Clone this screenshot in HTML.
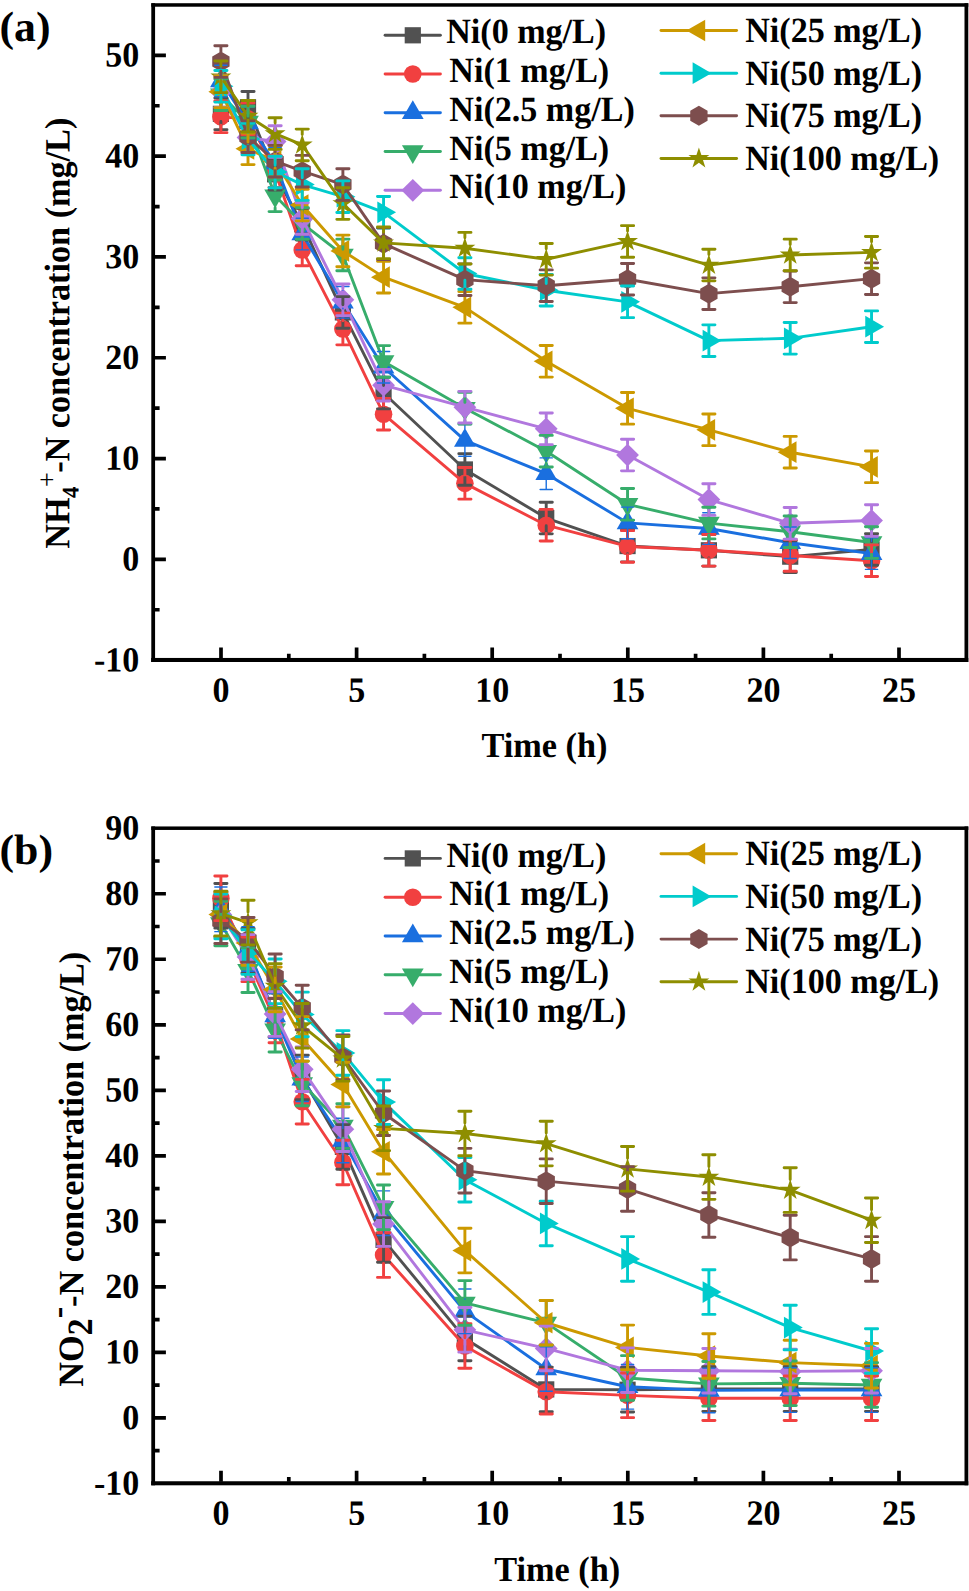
<!DOCTYPE html>
<html lang="en">
<head>
<meta charset="utf-8">
<title>Ni concentration effects on NH4+-N and NO2--N</title>
<style>
html,body{margin:0;padding:0;background:#fff;}
body{width:969px;height:1591px;overflow:hidden;font-family:"Liberation Serif",serif;}
svg{display:block;}
</style>
</head>
<body>
<svg width="969" height="1591" viewBox="0 0 969 1591">
<rect width="969" height="1591" fill="#fff"/>
<g id="chart-a">
<polyline points="220.9,113.83 248.01,107.28 275.12,174.31 302.23,224.21 342.89,312.41 383.56,393.05 464.89,469.46 546.22,518.04 627.55,546.06 708.88,550.3 790.21,556.65 871.54,549.49" fill="none" stroke="#515151" stroke-width="2.9" stroke-linejoin="round"/>
<rect x="212.8" y="105.73" width="16.2" height="16.2" fill="#515151"/>
<rect x="239.91" y="99.18" width="16.2" height="16.2" fill="#515151"/>
<rect x="267.02" y="166.21" width="16.2" height="16.2" fill="#515151"/>
<rect x="294.13" y="216.11" width="16.2" height="16.2" fill="#515151"/>
<rect x="334.79" y="304.31" width="16.2" height="16.2" fill="#515151"/>
<rect x="375.46" y="384.95" width="16.2" height="16.2" fill="#515151"/>
<rect x="456.79" y="461.36" width="16.2" height="16.2" fill="#515151"/>
<rect x="538.12" y="509.94" width="16.2" height="16.2" fill="#515151"/>
<rect x="619.45" y="537.96" width="16.2" height="16.2" fill="#515151"/>
<rect x="700.78" y="542.2" width="16.2" height="16.2" fill="#515151"/>
<rect x="782.11" y="548.55" width="16.2" height="16.2" fill="#515151"/>
<rect x="863.44" y="541.39" width="16.2" height="16.2" fill="#515151"/>
<polyline points="220.9,116.86 248.01,118.87 275.12,171.59 302.23,249.91 342.89,329.04 383.56,414.22 464.89,483.37 546.22,525.2 627.55,546.47 708.88,550.3 790.21,555.44 871.54,560.68" fill="none" stroke="#F14040" stroke-width="2.9" stroke-linejoin="round"/>
<circle cx="220.9" cy="116.86" r="8.8" fill="#F14040"/>
<circle cx="248.01" cy="118.87" r="8.8" fill="#F14040"/>
<circle cx="275.12" cy="171.59" r="8.8" fill="#F14040"/>
<circle cx="302.23" cy="249.91" r="8.8" fill="#F14040"/>
<circle cx="342.89" cy="329.04" r="8.8" fill="#F14040"/>
<circle cx="383.56" cy="414.22" r="8.8" fill="#F14040"/>
<circle cx="464.89" cy="483.37" r="8.8" fill="#F14040"/>
<circle cx="546.22" cy="525.2" r="8.8" fill="#F14040"/>
<circle cx="627.55" cy="546.47" r="8.8" fill="#F14040"/>
<circle cx="708.88" cy="550.3" r="8.8" fill="#F14040"/>
<circle cx="790.21" cy="555.44" r="8.8" fill="#F14040"/>
<circle cx="871.54" cy="560.68" r="8.8" fill="#F14040"/>
<polyline points="220.9,81.07 248.01,122.91 275.12,163.23 302.23,234.09 342.89,302.33 383.56,367.25 464.89,440.43 546.22,473.69 627.55,522.88 708.88,528.53 790.21,542.74 871.54,553.62" fill="none" stroke="#1A6FDF" stroke-width="2.9" stroke-linejoin="round"/>
<polygon points="220.9,68.54 210.05,87.34 231.75,87.34" fill="#1A6FDF"/>
<polygon points="248.01,110.37 237.16,129.17 258.86,129.17" fill="#1A6FDF"/>
<polygon points="275.12,150.69 264.27,169.49 285.97,169.49" fill="#1A6FDF"/>
<polygon points="302.23,221.56 291.38,240.36 313.08,240.36" fill="#1A6FDF"/>
<polygon points="342.89,289.8 332.04,308.6 353.75,308.6" fill="#1A6FDF"/>
<polygon points="383.56,354.71 372.71,373.51 394.41,373.51" fill="#1A6FDF"/>
<polygon points="464.89,427.89 454.04,446.69 475.74,446.69" fill="#1A6FDF"/>
<polygon points="546.22,461.16 535.37,479.96 557.07,479.96" fill="#1A6FDF"/>
<polygon points="627.55,510.35 616.7,529.15 638.4,529.15" fill="#1A6FDF"/>
<polygon points="708.88,515.99 698.03,534.79 719.73,534.79" fill="#1A6FDF"/>
<polygon points="790.21,530.2 779.36,549 801.06,549" fill="#1A6FDF"/>
<polygon points="871.54,541.09 860.69,559.89 882.39,559.89" fill="#1A6FDF"/>
<polyline points="220.9,94.68 248.01,122.1 275.12,195.78 302.23,223.4 342.89,254.95 383.56,361.4 464.89,408.17 546.22,451.21 627.55,504.33 708.88,523.08 790.21,531.75 871.54,542.54" fill="none" stroke="#37AD6B" stroke-width="2.9" stroke-linejoin="round"/>
<polygon points="220.9,107.22 210.05,88.42 231.75,88.42" fill="#37AD6B"/>
<polygon points="248.01,134.63 237.16,115.83 258.86,115.83" fill="#37AD6B"/>
<polygon points="275.12,208.32 264.27,189.52 285.97,189.52" fill="#37AD6B"/>
<polygon points="302.23,235.94 291.38,217.14 313.08,217.14" fill="#37AD6B"/>
<polygon points="342.89,267.49 332.04,248.69 353.75,248.69" fill="#37AD6B"/>
<polygon points="383.56,373.93 372.71,355.13 394.41,355.13" fill="#37AD6B"/>
<polygon points="464.89,420.7 454.04,401.9 475.74,401.9" fill="#37AD6B"/>
<polygon points="546.22,463.74 535.37,444.94 557.07,444.94" fill="#37AD6B"/>
<polygon points="627.55,516.87 616.7,498.07 638.4,498.07" fill="#37AD6B"/>
<polygon points="708.88,535.62 698.03,516.82 719.73,516.82" fill="#37AD6B"/>
<polygon points="790.21,544.28 779.36,525.48 801.06,525.48" fill="#37AD6B"/>
<polygon points="871.54,555.07 860.69,536.27 882.39,536.27" fill="#37AD6B"/>
<polyline points="220.9,91.66 248.01,137.52 275.12,141.55 302.23,218.57 342.89,299.81 383.56,385.19 464.89,407.16 546.22,428.83 627.55,455.04 708.88,499.6 790.21,523.28 871.54,520.56" fill="none" stroke="#B177DE" stroke-width="2.9" stroke-linejoin="round"/>
<polygon points="220.9,80.26 232.3,91.66 220.9,103.06 209.5,91.66" fill="#B177DE"/>
<polygon points="248.01,126.12 259.41,137.52 248.01,148.92 236.61,137.52" fill="#B177DE"/>
<polygon points="275.12,130.15 286.52,141.55 275.12,152.95 263.72,141.55" fill="#B177DE"/>
<polygon points="302.23,207.17 313.63,218.57 302.23,229.97 290.83,218.57" fill="#B177DE"/>
<polygon points="342.89,288.41 354.29,299.81 342.89,311.21 331.5,299.81" fill="#B177DE"/>
<polygon points="383.56,373.79 394.96,385.19 383.56,396.59 372.16,385.19" fill="#B177DE"/>
<polygon points="464.89,395.76 476.29,407.16 464.89,418.56 453.49,407.16" fill="#B177DE"/>
<polygon points="546.22,417.43 557.62,428.83 546.22,440.23 534.82,428.83" fill="#B177DE"/>
<polygon points="627.55,443.64 638.95,455.04 627.55,466.44 616.15,455.04" fill="#B177DE"/>
<polygon points="708.88,488.2 720.28,499.6 708.88,511 697.48,499.6" fill="#B177DE"/>
<polygon points="790.21,511.88 801.61,523.28 790.21,534.68 778.81,523.28" fill="#B177DE"/>
<polygon points="871.54,509.16 882.94,520.56 871.54,531.96 860.14,520.56" fill="#B177DE"/>
<polyline points="220.9,91.86 248.01,148.81 275.12,161.21 302.23,205.06 342.89,250.92 383.56,277.13 464.89,307.37 546.22,361.3 627.55,408.37 708.88,429.84 790.21,452.22 871.54,466.84" fill="none" stroke="#CC9900" stroke-width="2.9" stroke-linejoin="round"/>
<polygon points="208.37,91.86 227.17,81.01 227.17,102.71" fill="#CC9900"/>
<polygon points="235.48,148.81 254.28,137.96 254.28,159.66" fill="#CC9900"/>
<polygon points="262.59,161.21 281.39,150.36 281.39,172.06" fill="#CC9900"/>
<polygon points="289.7,205.06 308.5,194.21 308.5,215.91" fill="#CC9900"/>
<polygon points="330.36,250.92 349.16,240.07 349.16,261.77" fill="#CC9900"/>
<polygon points="371.03,277.13 389.83,266.28 389.83,287.98" fill="#CC9900"/>
<polygon points="452.36,307.37 471.16,296.52 471.16,318.22" fill="#CC9900"/>
<polygon points="533.69,361.3 552.49,350.45 552.49,372.15" fill="#CC9900"/>
<polygon points="615.02,408.37 633.82,397.52 633.82,419.22" fill="#CC9900"/>
<polygon points="696.35,429.84 715.15,418.99 715.15,440.69" fill="#CC9900"/>
<polygon points="777.68,452.22 796.48,441.37 796.48,463.07" fill="#CC9900"/>
<polygon points="859.01,466.84 877.81,455.99 877.81,477.69" fill="#CC9900"/>
<polyline points="220.9,86.32 248.01,139.03 275.12,172 302.23,184.6 342.89,196.69 383.56,212.32 464.89,273.5 546.22,290.23 627.55,301.83 708.88,340.63 790.21,338.32 871.54,326.72" fill="none" stroke="#00CBCC" stroke-width="2.9" stroke-linejoin="round"/>
<polygon points="233.43,86.32 214.63,75.47 214.63,97.17" fill="#00CBCC"/>
<polygon points="260.54,139.03 241.74,128.18 241.74,149.88" fill="#00CBCC"/>
<polygon points="287.65,172 268.85,161.15 268.85,182.85" fill="#00CBCC"/>
<polygon points="314.76,184.6 295.96,173.75 295.96,195.45" fill="#00CBCC"/>
<polygon points="355.43,196.69 336.63,185.84 336.63,207.54" fill="#00CBCC"/>
<polygon points="396.09,212.32 377.29,201.47 377.29,223.17" fill="#00CBCC"/>
<polygon points="477.42,273.5 458.62,262.65 458.62,284.35" fill="#00CBCC"/>
<polygon points="558.75,290.23 539.95,279.38 539.95,301.08" fill="#00CBCC"/>
<polygon points="640.08,301.83 621.28,290.98 621.28,312.68" fill="#00CBCC"/>
<polygon points="721.41,340.63 702.61,329.78 702.61,351.48" fill="#00CBCC"/>
<polygon points="802.74,338.32 783.94,327.47 783.94,349.17" fill="#00CBCC"/>
<polygon points="884.07,326.72 865.27,315.87 865.27,337.57" fill="#00CBCC"/>
<polyline points="220.9,61.62 248.01,136.72 275.12,161.21 302.23,171.19 342.89,184.6 383.56,243.66 464.89,279.65 546.22,285.7 627.55,279.25 708.88,293.66 790.21,286.81 871.54,278.64" fill="none" stroke="#7D4E4E" stroke-width="2.9" stroke-linejoin="round"/>
<polygon points="220.9,51.62 212.24,56.62 212.24,66.62 220.9,71.62 229.56,66.62 229.56,56.62" fill="#7D4E4E"/>
<polygon points="248.01,126.72 239.35,131.72 239.35,141.72 248.01,146.72 256.67,141.72 256.67,131.72" fill="#7D4E4E"/>
<polygon points="275.12,151.21 266.46,156.21 266.46,166.21 275.12,171.21 283.78,166.21 283.78,156.21" fill="#7D4E4E"/>
<polygon points="302.23,161.19 293.57,166.19 293.57,176.19 302.23,181.19 310.89,176.19 310.89,166.19" fill="#7D4E4E"/>
<polygon points="342.89,174.6 334.23,179.6 334.23,189.6 342.89,194.6 351.56,189.6 351.56,179.6" fill="#7D4E4E"/>
<polygon points="383.56,233.66 374.9,238.66 374.9,248.66 383.56,253.66 392.22,248.66 392.22,238.66" fill="#7D4E4E"/>
<polygon points="464.89,269.65 456.23,274.65 456.23,284.65 464.89,289.65 473.55,284.65 473.55,274.65" fill="#7D4E4E"/>
<polygon points="546.22,275.7 537.56,280.7 537.56,290.7 546.22,295.7 554.88,290.7 554.88,280.7" fill="#7D4E4E"/>
<polygon points="627.55,269.25 618.89,274.25 618.89,284.25 627.55,289.25 636.21,284.25 636.21,274.25" fill="#7D4E4E"/>
<polygon points="708.88,283.66 700.22,288.66 700.22,298.66 708.88,303.66 717.54,298.66 717.54,288.66" fill="#7D4E4E"/>
<polygon points="790.21,276.81 781.55,281.81 781.55,291.81 790.21,296.81 798.87,291.81 798.87,281.81" fill="#7D4E4E"/>
<polygon points="871.54,268.64 862.88,273.64 862.88,283.64 871.54,288.64 880.2,283.64 880.2,273.64" fill="#7D4E4E"/>
<polyline points="220.9,76.84 248.01,116.25 275.12,133.59 302.23,144.88 342.89,203.55 383.56,242.86 464.89,248.2 546.22,259.29 627.55,241.45 708.88,265.03 790.21,254.95 871.54,252.33" fill="none" stroke="#8E8E00" stroke-width="2.9" stroke-linejoin="round"/>
<polygon points="220.9,65.84 218.43,73.44 210.44,73.44 216.9,78.14 214.43,85.74 220.9,81.04 227.37,85.74 224.9,78.14 231.36,73.44 223.37,73.44" fill="#8E8E00"/>
<polygon points="248.01,105.25 245.54,112.85 237.55,112.85 244.01,117.55 241.54,125.15 248.01,120.46 254.48,125.15 252.01,117.55 258.47,112.85 250.48,112.85" fill="#8E8E00"/>
<polygon points="275.12,122.59 272.65,130.19 264.66,130.19 271.12,134.89 268.65,142.49 275.12,137.79 281.59,142.49 279.12,134.89 285.58,130.19 277.59,130.19" fill="#8E8E00"/>
<polygon points="302.23,133.88 299.76,141.48 291.77,141.48 298.23,146.18 295.76,153.78 302.23,149.08 308.7,153.78 306.23,146.18 312.69,141.48 304.7,141.48" fill="#8E8E00"/>
<polygon points="342.89,192.55 340.43,200.15 332.43,200.15 338.9,204.84 336.43,212.45 342.89,207.75 349.36,212.45 346.89,204.84 353.36,200.15 345.36,200.15" fill="#8E8E00"/>
<polygon points="383.56,231.86 381.09,239.46 373.1,239.46 379.56,244.16 377.09,251.76 383.56,247.06 390.03,251.76 387.56,244.16 394.02,239.46 386.03,239.46" fill="#8E8E00"/>
<polygon points="464.89,237.2 462.42,244.8 454.43,244.8 460.89,249.5 458.42,257.1 464.89,252.4 471.36,257.1 468.89,249.5 475.35,244.8 467.36,244.8" fill="#8E8E00"/>
<polygon points="546.22,248.29 543.75,255.89 535.76,255.89 542.22,260.59 539.75,268.19 546.22,263.49 552.69,268.19 550.22,260.59 556.68,255.89 548.69,255.89" fill="#8E8E00"/>
<polygon points="627.55,230.45 625.08,238.05 617.09,238.05 623.55,242.75 621.08,250.35 627.55,245.65 634.02,250.35 631.55,242.75 638.01,238.05 630.02,238.05" fill="#8E8E00"/>
<polygon points="708.88,254.03 706.41,261.63 698.42,261.63 704.88,266.33 702.41,273.93 708.88,269.24 715.35,273.93 712.88,266.33 719.34,261.63 711.35,261.63" fill="#8E8E00"/>
<polygon points="790.21,243.95 787.74,251.55 779.75,251.55 786.21,256.25 783.74,263.85 790.21,259.16 796.68,263.85 794.21,256.25 800.67,251.55 792.68,251.55" fill="#8E8E00"/>
<polygon points="871.54,241.33 869.07,248.93 861.08,248.93 867.54,253.63 865.07,261.23 871.54,256.54 878.01,261.23 875.54,253.63 882,248.93 874.01,248.93" fill="#8E8E00"/>
<path d="M214.8 98.03H227M214.8 129.63H227M220.9 98.03V106.23M220.9 121.43V129.63M241.91 91.48H254.11M241.91 123.08H254.11M248.01 91.48V99.68M248.01 114.88V123.08M269.02 158.51H281.22M269.02 190.11H281.22M275.12 158.51V166.71M275.12 181.91V190.11M296.13 208.41H308.33M296.13 240.01H308.33M302.23 208.41V216.61M302.23 231.81V240.01M336.79 296.61H349M336.79 328.21H349M342.89 296.61V304.81M342.89 320.01V328.21M377.46 377.25H389.66M377.46 408.85H389.66M383.56 377.25V385.45M383.56 400.65V408.85M458.79 453.66H470.99M458.79 485.26H470.99M464.89 453.66V461.86M464.89 477.06V485.26M540.12 502.24H552.32M540.12 533.84H552.32M546.22 502.24V510.44M546.22 525.64V533.84M621.45 530.26H633.65M621.45 561.86H633.65M627.55 530.26V538.46M627.55 553.66V561.86M702.78 534.5H714.98M702.78 566.1H714.98M708.88 534.5V542.7M708.88 557.9V566.1M784.11 540.85H796.31M784.11 572.45H796.31M790.21 540.85V549.05M790.21 564.25V572.45M865.44 533.69H877.64M865.44 565.29H877.64M871.54 533.69V541.89M871.54 557.09V565.29" fill="none" stroke="#515151" stroke-width="2.9" stroke-linecap="round"/>
<path d="M214.8 101.06H227M214.8 132.66H227M220.9 101.06V108.56M220.9 125.16V132.66M241.91 103.07H254.11M241.91 134.67H254.11M248.01 103.07V110.57M248.01 127.17V134.67M269.02 155.79H281.22M269.02 187.39H281.22M275.12 155.79V163.29M275.12 179.89V187.39M296.13 234.11H308.33M296.13 265.71H308.33M302.23 234.11V241.61M302.23 258.21V265.71M336.79 313.24H349M336.79 344.84H349M342.89 313.24V320.74M342.89 337.34V344.84M377.46 398.42H389.66M377.46 430.02H389.66M383.56 398.42V405.92M383.56 422.52V430.02M458.79 467.57H470.99M458.79 499.17H470.99M464.89 467.57V475.07M464.89 491.67V499.17M540.12 509.4H552.32M540.12 541H552.32M546.22 509.4V516.9M546.22 533.5V541M621.45 530.67H633.65M621.45 562.27H633.65M627.55 530.67V538.17M627.55 554.77V562.27M702.78 534.5H714.98M702.78 566.1H714.98M708.88 534.5V542M708.88 558.6V566.1M784.11 539.64H796.31M784.11 571.24H796.31M790.21 539.64V547.14M790.21 563.74V571.24M865.44 544.88H877.64M865.44 576.48H877.64M871.54 544.88V552.38M871.54 568.98V576.48" fill="none" stroke="#F14040" stroke-width="2.9" stroke-linecap="round"/>
<path d="M214.8 65.27H227M214.8 96.87H227M220.9 65.27V69.04M220.9 86.84V96.87M241.91 107.11H254.11M241.91 138.71H254.11M248.01 107.11V110.87M248.01 128.67V138.71M269.02 147.43H281.22M269.02 179.03H281.22M275.12 147.43V151.19M275.12 168.99V179.03M296.13 218.29H308.33M296.13 249.89H308.33M302.23 218.29V222.06M302.23 239.86V249.89M336.79 286.53H349M336.79 318.13H349M342.89 286.53V290.3M342.89 308.1V318.13M377.46 351.45H389.66M377.46 383.05H389.66M383.56 351.45V355.21M383.56 373.01V383.05M458.79 424.63H470.99M458.79 456.23H470.99M464.89 424.63V428.39M464.89 446.19V456.23M540.12 457.89H552.32M540.12 489.49H552.32M546.22 457.89V461.66M546.22 479.46V489.49M621.45 507.08H633.65M621.45 538.68H633.65M627.55 507.08V510.85M627.55 528.65V538.68M702.78 512.73H714.98M702.78 544.33H714.98M708.88 512.73V516.49M708.88 534.29V544.33M784.11 526.94H796.31M784.11 558.54H796.31M790.21 526.94V530.7M790.21 548.5V558.54M865.44 537.82H877.64M865.44 569.42H877.64M871.54 537.82V541.59M871.54 559.39V569.42" fill="none" stroke="#1A6FDF" stroke-width="1.4" stroke-linecap="round"/>
<path d="M214.8 78.88H227M214.8 110.48H227M220.9 78.88V88.92M220.9 106.72V110.48M241.91 106.3H254.11M241.91 137.9H254.11M248.01 106.3V116.33M248.01 134.13V137.9M269.02 179.98H281.22M269.02 211.58H281.22M275.12 179.98V190.02M275.12 207.82V211.58M296.13 207.6H308.33M296.13 239.2H308.33M302.23 207.6V217.64M302.23 235.44V239.2M336.79 239.15H349M336.79 270.75H349M342.89 239.15V249.19M342.89 266.99V270.75M377.46 345.6H389.66M377.46 377.2H389.66M383.56 345.6V355.63M383.56 373.43V377.2M458.79 392.37H470.99M458.79 423.97H470.99M464.89 392.37V402.4M464.89 420.2V423.97M540.12 435.41H552.32M540.12 467.01H552.32M546.22 435.41V445.44M546.22 463.24V467.01M621.45 488.53H633.65M621.45 520.13H633.65M627.55 488.53V498.57M627.55 516.37V520.13M702.78 507.28H714.98M702.78 538.88H714.98M708.88 507.28V517.32M708.88 535.12V538.88M784.11 515.95H796.31M784.11 547.55H796.31M790.21 515.95V525.98M790.21 543.78V547.55M865.44 526.74H877.64M865.44 558.34H877.64M871.54 526.74V536.77M871.54 554.57V558.34" fill="none" stroke="#37AD6B" stroke-width="2.9" stroke-linecap="round"/>
<path d="M214.8 75.86H227M214.8 107.46H227M220.9 75.86V80.76M220.9 102.56V107.46M241.91 121.72H254.11M241.91 153.32H254.11M248.01 121.72V126.62M248.01 148.42V153.32M269.02 125.75H281.22M269.02 157.35H281.22M275.12 125.75V130.65M275.12 152.45V157.35M296.13 202.77H308.33M296.13 234.37H308.33M302.23 202.77V207.67M302.23 229.47V234.37M336.79 284.01H349M336.79 315.61H349M342.89 284.01V288.91M342.89 310.71V315.61M377.46 369.39H389.66M377.46 400.99H389.66M383.56 369.39V374.29M383.56 396.09V400.99M458.79 391.36H470.99M458.79 422.96H470.99M464.89 391.36V396.26M464.89 418.06V422.96M540.12 413.03H552.32M540.12 444.63H552.32M546.22 413.03V417.93M546.22 439.73V444.63M621.45 439.24H633.65M621.45 470.84H633.65M627.55 439.24V444.14M627.55 465.94V470.84M702.78 483.8H714.98M702.78 515.4H714.98M708.88 483.8V488.7M708.88 510.5V515.4M784.11 507.48H796.31M784.11 539.08H796.31M790.21 507.48V512.38M790.21 534.18V539.08M865.44 504.76H877.64M865.44 536.36H877.64M871.54 504.76V509.66M871.54 531.46V536.36" fill="none" stroke="#B177DE" stroke-width="2.9" stroke-linecap="round"/>
<path d="M214.8 76.06H227M214.8 107.66H227M220.9 76.06V85.13M220.9 98.59V107.66M241.91 133.01H254.11M241.91 164.61H254.11M248.01 133.01V142.08M248.01 155.54V164.61M269.02 145.41H281.22M269.02 177.01H281.22M275.12 145.41V154.48M275.12 167.94V177.01M296.13 189.26H308.33M296.13 220.86H308.33M302.23 189.26V198.32M302.23 211.79V220.86M336.79 235.12H349M336.79 266.72H349M342.89 235.12V244.19M342.89 257.66V266.72M377.46 261.33H389.66M377.46 292.93H389.66M383.56 261.33V270.4M383.56 283.86V292.93M458.79 291.57H470.99M458.79 323.17H470.99M464.89 291.57V300.64M464.89 314.1V323.17M540.12 345.5H552.32M540.12 377.1H552.32M546.22 345.5V354.56M546.22 368.03V377.1M621.45 392.57H633.65M621.45 424.17H633.65M627.55 392.57V401.64M627.55 415.1V424.17M702.78 414.04H714.98M702.78 445.64H714.98M708.88 414.04V423.11M708.88 436.58V445.64M784.11 436.42H796.31M784.11 468.02H796.31M790.21 436.42V445.49M790.21 458.95V468.02M865.44 451.04H877.64M865.44 482.64H877.64M871.54 451.04V460.1M871.54 473.57V482.64" fill="none" stroke="#CC9900" stroke-width="2.9" stroke-linecap="round"/>
<path d="M214.8 70.52H227M214.8 102.12H227M220.9 70.52V79.58M220.9 93.05V102.12M241.91 123.23H254.11M241.91 154.83H254.11M248.01 123.23V132.3M248.01 145.77V154.83M269.02 156.2H281.22M269.02 187.8H281.22M275.12 156.2V165.26M275.12 178.73V187.8M296.13 168.8H308.33M296.13 200.4H308.33M302.23 168.8V177.86M302.23 191.33V200.4M336.79 180.89H349M336.79 212.49H349M342.89 180.89V189.96M342.89 203.42V212.49M377.46 196.52H389.66M377.46 228.12H389.66M383.56 196.52V205.58M383.56 219.05V228.12M458.79 257.7H470.99M458.79 289.3H470.99M464.89 257.7V266.77M464.89 280.23V289.3M540.12 274.43H552.32M540.12 306.03H552.32M546.22 274.43V283.5M546.22 296.97V306.03M621.45 286.03H633.65M621.45 317.63H633.65M627.55 286.03V295.09M627.55 308.56V317.63M702.78 324.83H714.98M702.78 356.43H714.98M708.88 324.83V333.9M708.88 347.37V356.43M784.11 322.52H796.31M784.11 354.12H796.31M790.21 322.52V331.58M790.21 345.05V354.12M865.44 310.92H877.64M865.44 342.52H877.64M871.54 310.92V319.99M871.54 333.46V342.52" fill="none" stroke="#00CBCC" stroke-width="2.9" stroke-linecap="round"/>
<path d="M214.8 45.82H227M214.8 77.42H227M220.9 45.82V52.12M220.9 71.12V77.42M241.91 120.92H254.11M241.91 152.52H254.11M248.01 120.92V127.22M248.01 146.22V152.52M269.02 145.41H281.22M269.02 177.01H281.22M275.12 145.41V151.71M275.12 170.71V177.01M296.13 155.39H308.33M296.13 186.99H308.33M302.23 155.39V161.69M302.23 180.69V186.99M336.79 168.8H349M336.79 200.4H349M342.89 168.8V175.1M342.89 194.1V200.4M377.46 227.86H389.66M377.46 259.46H389.66M383.56 227.86V234.16M383.56 253.16V259.46M458.79 263.85H470.99M458.79 295.45H470.99M464.89 263.85V270.15M464.89 289.15V295.45M540.12 269.9H552.32M540.12 301.5H552.32M546.22 269.9V276.2M546.22 295.2V301.5M621.45 263.45H633.65M621.45 295.05H633.65M627.55 263.45V269.75M627.55 288.75V295.05M702.78 277.86H714.98M702.78 309.46H714.98M708.88 277.86V284.16M708.88 303.16V309.46M784.11 271.01H796.31M784.11 302.61H796.31M790.21 271.01V277.31M790.21 296.31V302.61M865.44 262.84H877.64M865.44 294.44H877.64M871.54 262.84V269.14M871.54 288.14V294.44" fill="none" stroke="#7D4E4E" stroke-width="2.9" stroke-linecap="round"/>
<path d="M214.8 61.04H227M214.8 92.64H227M220.9 61.04V66.34M220.9 80.54V92.64M241.91 100.45H254.11M241.91 132.05H254.11M248.01 100.45V105.75M248.01 119.96V132.05M269.02 117.79H281.22M269.02 149.39H281.22M275.12 117.79V123.09M275.12 137.29V149.39M296.13 129.08H308.33M296.13 160.68H308.33M302.23 129.08V134.38M302.23 148.58V160.68M336.79 187.75H349M336.79 219.35H349M342.89 187.75V193.05M342.89 207.25V219.35M377.46 227.06H389.66M377.46 258.66H389.66M383.56 227.06V232.36M383.56 246.56V258.66M458.79 232.4H470.99M458.79 264H470.99M464.89 232.4V237.7M464.89 251.9V264M540.12 243.49H552.32M540.12 275.09H552.32M546.22 243.49V248.79M546.22 262.99V275.09M621.45 225.65H633.65M621.45 257.25H633.65M627.55 225.65V230.95M627.55 245.15V257.25M702.78 249.23H714.98M702.78 280.83H714.98M708.88 249.23V254.53M708.88 268.74V280.83M784.11 239.15H796.31M784.11 270.75H796.31M790.21 239.15V244.45M790.21 258.66V270.75M865.44 236.53H877.64M865.44 268.13H877.64M871.54 236.53V241.83M871.54 256.04V268.13" fill="none" stroke="#8E8E00" stroke-width="2.9" stroke-linecap="round"/>
<g fill="#000"><rect x="151.3" y="3.22" width="3.78" height="658.78"/><rect x="964.5" y="3.22" width="3.8" height="658.78"/><rect x="151.3" y="3.22" width="817" height="3.5"/><rect x="151.15" y="657.95" width="817.15" height="4.05"/></g>
<path d="M154.58 559.37H165.9M154.58 458.57H165.9M154.58 357.77H165.9M154.58 256.97H165.9M154.58 156.17H165.9M154.58 55.37H165.9M154.58 609.77H159.6M154.58 508.97H159.6M154.58 408.17H159.6M154.58 307.37H159.6M154.58 206.57H159.6M154.58 105.77H159.6M221 658.45V647.55M356.6 658.45V647.55M492.2 658.45V647.55M627.8 658.45V647.55M763.4 658.45V647.55M899 658.45V647.55M288.8 658.45V653.8M424.4 658.45V653.8M560 658.45V653.8M695.6 658.45V653.8M831.2 658.45V653.8" fill="none" stroke="#000" stroke-width="3.7"/>
</g>
<g id="chart-b">
<polyline points="220.9,905.86 248.01,950.74 275.12,1014.95 302.23,1077.46 342.89,1146.91 383.56,1239.88 464.89,1338.42 546.22,1389.4 627.55,1389.73 708.88,1389.07 790.21,1389.07 871.54,1389.07" fill="none" stroke="#515151" stroke-width="2.9" stroke-linejoin="round"/>
<rect x="212.8" y="897.76" width="16.2" height="16.2" fill="#515151"/>
<rect x="239.91" y="942.64" width="16.2" height="16.2" fill="#515151"/>
<rect x="267.02" y="1006.85" width="16.2" height="16.2" fill="#515151"/>
<rect x="294.13" y="1069.36" width="16.2" height="16.2" fill="#515151"/>
<rect x="334.79" y="1138.81" width="16.2" height="16.2" fill="#515151"/>
<rect x="375.46" y="1231.78" width="16.2" height="16.2" fill="#515151"/>
<rect x="456.79" y="1330.32" width="16.2" height="16.2" fill="#515151"/>
<rect x="538.12" y="1381.3" width="16.2" height="16.2" fill="#515151"/>
<rect x="619.45" y="1381.63" width="16.2" height="16.2" fill="#515151"/>
<rect x="700.78" y="1380.97" width="16.2" height="16.2" fill="#515151"/>
<rect x="782.11" y="1380.97" width="16.2" height="16.2" fill="#515151"/>
<rect x="863.44" y="1380.97" width="16.2" height="16.2" fill="#515151"/>
<polyline points="220.9,898.33 248.01,959.33 275.12,1020.52 302.23,1101.7 342.89,1162.5 383.56,1255.08 464.89,1346.02 546.22,1391.76 627.55,1395.36 708.88,1398.24 790.21,1398.24 871.54,1398.24" fill="none" stroke="#F14040" stroke-width="2.9" stroke-linejoin="round"/>
<circle cx="220.9" cy="898.33" r="8.8" fill="#F14040"/>
<circle cx="248.01" cy="959.33" r="8.8" fill="#F14040"/>
<circle cx="275.12" cy="1020.52" r="8.8" fill="#F14040"/>
<circle cx="302.23" cy="1101.7" r="8.8" fill="#F14040"/>
<circle cx="342.89" cy="1162.5" r="8.8" fill="#F14040"/>
<circle cx="383.56" cy="1255.08" r="8.8" fill="#F14040"/>
<circle cx="464.89" cy="1346.02" r="8.8" fill="#F14040"/>
<circle cx="546.22" cy="1391.76" r="8.8" fill="#F14040"/>
<circle cx="627.55" cy="1395.36" r="8.8" fill="#F14040"/>
<circle cx="708.88" cy="1398.24" r="8.8" fill="#F14040"/>
<circle cx="790.21" cy="1398.24" r="8.8" fill="#F14040"/>
<circle cx="871.54" cy="1398.24" r="8.8" fill="#F14040"/>
<polyline points="220.9,909.33 248.01,948.97 275.12,1016 302.23,1079.23 342.89,1140.49 383.56,1213.15 464.89,1311.36 546.22,1369.02 627.55,1386.78 708.88,1390.38 790.21,1390.05 871.54,1390.05" fill="none" stroke="#1A6FDF" stroke-width="2.9" stroke-linejoin="round"/>
<polygon points="220.9,896.8 210.05,915.6 231.75,915.6" fill="#1A6FDF"/>
<polygon points="248.01,936.44 237.16,955.24 258.86,955.24" fill="#1A6FDF"/>
<polygon points="275.12,1003.47 264.27,1022.27 285.97,1022.27" fill="#1A6FDF"/>
<polygon points="302.23,1066.69 291.38,1085.49 313.08,1085.49" fill="#1A6FDF"/>
<polygon points="342.89,1127.95 332.04,1146.75 353.75,1146.75" fill="#1A6FDF"/>
<polygon points="383.56,1200.62 372.71,1219.42 394.41,1219.42" fill="#1A6FDF"/>
<polygon points="464.89,1298.83 454.04,1317.63 475.74,1317.63" fill="#1A6FDF"/>
<polygon points="546.22,1356.49 535.37,1375.29 557.07,1375.29" fill="#1A6FDF"/>
<polygon points="627.55,1374.24 616.7,1393.04 638.4,1393.04" fill="#1A6FDF"/>
<polygon points="708.88,1377.85 698.03,1396.65 719.73,1396.65" fill="#1A6FDF"/>
<polygon points="790.21,1377.52 779.36,1396.32 801.06,1396.32" fill="#1A6FDF"/>
<polygon points="871.54,1377.52 860.69,1396.32 882.39,1396.32" fill="#1A6FDF"/>
<polyline points="220.9,923.49 248.01,970.2 275.12,1029.69 302.23,1083.42 342.89,1126.07 383.56,1207.32 464.89,1302.91 546.22,1322.9 627.55,1377.93 708.88,1383.83 790.21,1383.31 871.54,1384.94" fill="none" stroke="#37AD6B" stroke-width="2.9" stroke-linejoin="round"/>
<polygon points="220.9,936.02 210.05,917.22 231.75,917.22" fill="#37AD6B"/>
<polygon points="248.01,982.74 237.16,963.94 258.86,963.94" fill="#37AD6B"/>
<polygon points="275.12,1042.23 264.27,1023.43 285.97,1023.43" fill="#37AD6B"/>
<polygon points="302.23,1095.95 291.38,1077.15 313.08,1077.15" fill="#37AD6B"/>
<polygon points="342.89,1138.61 332.04,1119.81 353.75,1119.81" fill="#37AD6B"/>
<polygon points="383.56,1219.85 372.71,1201.05 394.41,1201.05" fill="#37AD6B"/>
<polygon points="464.89,1315.45 454.04,1296.65 475.74,1296.65" fill="#37AD6B"/>
<polygon points="546.22,1335.43 535.37,1316.63 557.07,1316.63" fill="#37AD6B"/>
<polygon points="627.55,1390.47 616.7,1371.67 638.4,1371.67" fill="#37AD6B"/>
<polygon points="708.88,1396.36 698.03,1377.56 719.73,1377.56" fill="#37AD6B"/>
<polygon points="790.21,1395.84 779.36,1377.04 801.06,1377.04" fill="#37AD6B"/>
<polygon points="871.54,1397.48 860.69,1378.68 882.39,1378.68" fill="#37AD6B"/>
<polyline points="220.9,914.71 248.01,956.97 275.12,1014.1 302.23,1069.14 342.89,1129.15 383.56,1224.09 464.89,1329.84 546.22,1348.38 627.55,1370.2 708.88,1370.73 790.21,1371.38 871.54,1370.73" fill="none" stroke="#B177DE" stroke-width="2.9" stroke-linejoin="round"/>
<polygon points="220.9,903.31 232.3,914.71 220.9,926.11 209.5,914.71" fill="#B177DE"/>
<polygon points="248.01,945.57 259.41,956.97 248.01,968.37 236.61,956.97" fill="#B177DE"/>
<polygon points="275.12,1002.7 286.52,1014.1 275.12,1025.5 263.72,1014.1" fill="#B177DE"/>
<polygon points="302.23,1057.74 313.63,1069.14 302.23,1080.54 290.83,1069.14" fill="#B177DE"/>
<polygon points="342.89,1117.75 354.29,1129.15 342.89,1140.55 331.5,1129.15" fill="#B177DE"/>
<polygon points="383.56,1212.69 394.96,1224.09 383.56,1235.49 372.16,1224.09" fill="#B177DE"/>
<polygon points="464.89,1318.44 476.29,1329.84 464.89,1341.24 453.49,1329.84" fill="#B177DE"/>
<polygon points="546.22,1336.98 557.62,1348.38 546.22,1359.78 534.82,1348.38" fill="#B177DE"/>
<polygon points="627.55,1358.8 638.95,1370.2 627.55,1381.6 616.15,1370.2" fill="#B177DE"/>
<polygon points="708.88,1359.33 720.28,1370.73 708.88,1382.13 697.48,1370.73" fill="#B177DE"/>
<polygon points="790.21,1359.98 801.61,1371.38 790.21,1382.78 778.81,1371.38" fill="#B177DE"/>
<polygon points="871.54,1359.33 882.94,1370.73 871.54,1382.13 860.14,1370.73" fill="#B177DE"/>
<polyline points="220.9,914.44 248.01,942.88 275.12,989.4 302.23,1038.93 342.89,1084.53 383.56,1151.76 464.89,1250.56 546.22,1322.76 627.55,1347.4 708.88,1355.98 790.21,1362.6 871.54,1365.68" fill="none" stroke="#CC9900" stroke-width="2.9" stroke-linejoin="round"/>
<polygon points="208.37,914.44 227.17,903.59 227.17,925.29" fill="#CC9900"/>
<polygon points="235.48,942.88 254.28,932.03 254.28,953.73" fill="#CC9900"/>
<polygon points="262.59,989.4 281.39,978.55 281.39,1000.25" fill="#CC9900"/>
<polygon points="289.7,1038.93 308.5,1028.08 308.5,1049.78" fill="#CC9900"/>
<polygon points="330.36,1084.53 349.16,1073.68 349.16,1095.38" fill="#CC9900"/>
<polygon points="371.03,1151.76 389.83,1140.91 389.83,1162.61" fill="#CC9900"/>
<polygon points="452.36,1250.56 471.16,1239.71 471.16,1261.41" fill="#CC9900"/>
<polygon points="533.69,1322.76 552.49,1311.91 552.49,1333.61" fill="#CC9900"/>
<polygon points="615.02,1347.4 633.82,1336.55 633.82,1358.25" fill="#CC9900"/>
<polygon points="696.35,1355.98 715.15,1345.13 715.15,1366.83" fill="#CC9900"/>
<polygon points="777.68,1362.6 796.48,1351.75 796.48,1373.45" fill="#CC9900"/>
<polygon points="859.01,1365.68 877.81,1354.83 877.81,1376.53" fill="#CC9900"/>
<polyline points="220.9,916.41 248.01,952.05 275.12,981.34 302.23,1014.43 342.89,1052.95 383.56,1102.09 464.89,1179.73 546.22,1223.44 627.55,1258.88 708.88,1292.1 790.21,1327.61 871.54,1351" fill="none" stroke="#00CBCC" stroke-width="2.9" stroke-linejoin="round"/>
<polygon points="233.43,916.41 214.63,905.56 214.63,927.26" fill="#00CBCC"/>
<polygon points="260.54,952.05 241.74,941.2 241.74,962.9" fill="#00CBCC"/>
<polygon points="287.65,981.34 268.85,970.49 268.85,992.19" fill="#00CBCC"/>
<polygon points="314.76,1014.43 295.96,1003.58 295.96,1025.28" fill="#00CBCC"/>
<polygon points="355.43,1052.95 336.63,1042.1 336.63,1063.8" fill="#00CBCC"/>
<polygon points="396.09,1102.09 377.29,1091.24 377.29,1112.94" fill="#00CBCC"/>
<polygon points="477.42,1179.73 458.62,1168.88 458.62,1190.58" fill="#00CBCC"/>
<polygon points="558.75,1223.44 539.95,1212.59 539.95,1234.29" fill="#00CBCC"/>
<polygon points="640.08,1258.88 621.28,1248.03 621.28,1269.73" fill="#00CBCC"/>
<polygon points="721.41,1292.1 702.61,1281.25 702.61,1302.95" fill="#00CBCC"/>
<polygon points="802.74,1327.61 783.94,1316.76 783.94,1338.46" fill="#00CBCC"/>
<polygon points="884.07,1351 865.27,1340.15 865.27,1361.85" fill="#00CBCC"/>
<polyline points="220.9,921.13 248.01,939.8 275.12,976.23 302.23,1007.61 342.89,1057.28 383.56,1113.23 464.89,1170.63 546.22,1181.18 627.55,1188.91 708.88,1214.98 790.21,1237.59 871.54,1258.95" fill="none" stroke="#7D4E4E" stroke-width="2.9" stroke-linejoin="round"/>
<polygon points="220.9,911.13 212.24,916.13 212.24,926.13 220.9,931.13 229.56,926.13 229.56,916.13" fill="#7D4E4E"/>
<polygon points="248.01,929.8 239.35,934.8 239.35,944.8 248.01,949.8 256.67,944.8 256.67,934.8" fill="#7D4E4E"/>
<polygon points="275.12,966.23 266.46,971.23 266.46,981.23 275.12,986.23 283.78,981.23 283.78,971.23" fill="#7D4E4E"/>
<polygon points="302.23,997.61 293.57,1002.61 293.57,1012.61 302.23,1017.61 310.89,1012.61 310.89,1002.61" fill="#7D4E4E"/>
<polygon points="342.89,1047.28 334.23,1052.28 334.23,1062.28 342.89,1067.28 351.56,1062.28 351.56,1052.28" fill="#7D4E4E"/>
<polygon points="383.56,1103.23 374.9,1108.23 374.9,1118.23 383.56,1123.23 392.22,1118.23 392.22,1108.23" fill="#7D4E4E"/>
<polygon points="464.89,1160.63 456.23,1165.63 456.23,1175.63 464.89,1180.63 473.55,1175.63 473.55,1165.63" fill="#7D4E4E"/>
<polygon points="546.22,1171.18 537.56,1176.18 537.56,1186.18 546.22,1191.18 554.88,1186.18 554.88,1176.18" fill="#7D4E4E"/>
<polygon points="627.55,1178.91 618.89,1183.91 618.89,1193.91 627.55,1198.91 636.21,1193.91 636.21,1183.91" fill="#7D4E4E"/>
<polygon points="708.88,1204.98 700.22,1209.98 700.22,1219.98 708.88,1224.98 717.54,1219.98 717.54,1209.98" fill="#7D4E4E"/>
<polygon points="790.21,1227.59 781.55,1232.59 781.55,1242.59 790.21,1247.59 798.87,1242.59 798.87,1232.59" fill="#7D4E4E"/>
<polygon points="871.54,1248.95 862.88,1253.95 862.88,1263.95 871.54,1268.95 880.2,1263.95 880.2,1253.95" fill="#7D4E4E"/>
<polyline points="220.9,913.59 248.01,922.57 275.12,986.12 302.23,1025.76 342.89,1058.85 383.56,1128.37 464.89,1133.48 546.22,1143.57 627.55,1168.86 708.88,1177.05 790.21,1190.09 871.54,1220.23" fill="none" stroke="#8E8E00" stroke-width="2.9" stroke-linejoin="round"/>
<polygon points="220.9,902.59 218.43,910.19 210.44,910.19 216.9,914.89 214.43,922.49 220.9,917.79 227.37,922.49 224.9,914.89 231.36,910.19 223.37,910.19" fill="#8E8E00"/>
<polygon points="248.01,911.57 245.54,919.17 237.55,919.17 244.01,923.87 241.54,931.47 248.01,926.77 254.48,931.47 252.01,923.87 258.47,919.17 250.48,919.17" fill="#8E8E00"/>
<polygon points="275.12,975.12 272.65,982.72 264.66,982.72 271.12,987.42 268.65,995.02 275.12,990.33 281.59,995.02 279.12,987.42 285.58,982.72 277.59,982.72" fill="#8E8E00"/>
<polygon points="302.23,1014.76 299.76,1022.36 291.77,1022.36 298.23,1027.06 295.76,1034.66 302.23,1029.96 308.7,1034.66 306.23,1027.06 312.69,1022.36 304.7,1022.36" fill="#8E8E00"/>
<polygon points="342.89,1047.85 340.43,1055.45 332.43,1055.45 338.9,1060.15 336.43,1067.75 342.89,1063.05 349.36,1067.75 346.89,1060.15 353.36,1055.45 345.36,1055.45" fill="#8E8E00"/>
<polygon points="383.56,1117.37 381.09,1124.97 373.1,1124.97 379.56,1129.67 377.09,1137.27 383.56,1132.57 390.03,1137.27 387.56,1129.67 394.02,1124.97 386.03,1124.97" fill="#8E8E00"/>
<polygon points="464.89,1122.48 462.42,1130.08 454.43,1130.08 460.89,1134.78 458.42,1142.38 464.89,1137.68 471.36,1142.38 468.89,1134.78 475.35,1130.08 467.36,1130.08" fill="#8E8E00"/>
<polygon points="546.22,1132.57 543.75,1140.17 535.76,1140.17 542.22,1144.87 539.75,1152.47 546.22,1147.77 552.69,1152.47 550.22,1144.87 556.68,1140.17 548.69,1140.17" fill="#8E8E00"/>
<polygon points="627.55,1157.86 625.08,1165.46 617.09,1165.46 623.55,1170.16 621.08,1177.76 627.55,1173.06 634.02,1177.76 631.55,1170.16 638.01,1165.46 630.02,1165.46" fill="#8E8E00"/>
<polygon points="708.88,1166.05 706.41,1173.65 698.42,1173.65 704.88,1178.35 702.41,1185.95 708.88,1181.25 715.35,1185.95 712.88,1178.35 719.34,1173.65 711.35,1173.65" fill="#8E8E00"/>
<polygon points="790.21,1179.09 787.74,1186.69 779.75,1186.69 786.21,1191.39 783.74,1198.99 790.21,1194.29 796.68,1198.99 794.21,1191.39 800.67,1186.69 792.68,1186.69" fill="#8E8E00"/>
<polygon points="871.54,1209.23 869.07,1216.83 861.08,1216.83 867.54,1221.52 865.07,1229.13 871.54,1224.43 878.01,1229.13 875.54,1221.52 882,1216.83 874.01,1216.83" fill="#8E8E00"/>
<path d="M214.8 883.56H227M214.8 928.16H227M220.9 883.56V898.26M220.9 913.46V928.16M241.91 928.44H254.11M241.91 973.04H254.11M248.01 928.44V943.14M248.01 958.34V973.04M269.02 992.65H281.22M269.02 1037.25H281.22M275.12 992.65V1007.35M275.12 1022.55V1037.25M296.13 1055.16H308.33M296.13 1099.76H308.33M302.23 1055.16V1069.86M302.23 1085.06V1099.76M336.79 1124.61H349M336.79 1169.21H349M342.89 1124.61V1139.31M342.89 1154.51V1169.21M377.46 1217.58H389.66M377.46 1262.18H389.66M383.56 1217.58V1232.28M383.56 1247.48V1262.18M458.79 1316.12H470.99M458.79 1360.72H470.99M464.89 1316.12V1330.82M464.89 1346.02V1360.72M540.12 1367.1H552.32M540.12 1411.7H552.32M546.22 1367.1V1381.8M546.22 1397V1411.7M621.45 1367.43H633.65M621.45 1412.03H633.65M627.55 1367.43V1382.13M627.55 1397.33V1412.03M702.78 1366.77H714.98M702.78 1411.37H714.98M708.88 1366.77V1381.47M708.88 1396.67V1411.37M784.11 1366.77H796.31M784.11 1411.37H796.31M790.21 1366.77V1381.47M790.21 1396.67V1411.37M865.44 1366.77H877.64M865.44 1411.37H877.64M871.54 1366.77V1381.47M871.54 1396.67V1411.37" fill="none" stroke="#515151" stroke-width="2.9" stroke-linecap="round"/>
<path d="M214.8 876.03H227M214.8 920.63H227M220.9 876.03V890.03M220.9 906.63V920.63M241.91 937.03H254.11M241.91 981.63H254.11M248.01 937.03V951.03M248.01 967.63V981.63M269.02 998.22H281.22M269.02 1042.82H281.22M275.12 998.22V1012.22M275.12 1028.82V1042.82M296.13 1079.4H308.33M296.13 1124H308.33M302.23 1079.4V1093.4M302.23 1110V1124M336.79 1140.2H349M336.79 1184.8H349M342.89 1140.2V1154.2M342.89 1170.8V1184.8M377.46 1232.78H389.66M377.46 1277.38H389.66M383.56 1232.78V1246.78M383.56 1263.38V1277.38M458.79 1323.72H470.99M458.79 1368.32H470.99M464.89 1323.72V1337.72M464.89 1354.32V1368.32M540.12 1369.46H552.32M540.12 1414.06H552.32M546.22 1369.46V1383.46M546.22 1400.06V1414.06M621.45 1373.06H633.65M621.45 1417.66H633.65M627.55 1373.06V1387.06M627.55 1403.66V1417.66M702.78 1375.94H714.98M702.78 1420.54H714.98M708.88 1375.94V1389.94M708.88 1406.54V1420.54M784.11 1375.94H796.31M784.11 1420.54H796.31M790.21 1375.94V1389.94M790.21 1406.54V1420.54M865.44 1375.94H877.64M865.44 1420.54H877.64M871.54 1375.94V1389.94M871.54 1406.54V1420.54" fill="none" stroke="#F14040" stroke-width="2.9" stroke-linecap="round"/>
<path d="M214.8 887.03H227M214.8 931.63H227M220.9 887.03V897.3M220.9 915.1V931.63M241.91 926.67H254.11M241.91 971.27H254.11M248.01 926.67V936.94M248.01 954.74V971.27M269.02 993.7H281.22M269.02 1038.3H281.22M275.12 993.7V1003.97M275.12 1021.77V1038.3M296.13 1056.93H308.33M296.13 1101.53H308.33M302.23 1056.93V1067.19M302.23 1084.99V1101.53M336.79 1118.19H349M336.79 1162.79H349M342.89 1118.19V1128.45M342.89 1146.25V1162.79M377.46 1190.85H389.66M377.46 1235.45H389.66M383.56 1190.85V1201.12M383.56 1218.92V1235.45M458.79 1289.06H470.99M458.79 1333.66H470.99M464.89 1289.06V1299.33M464.89 1317.13V1333.66M540.12 1346.72H552.32M540.12 1391.32H552.32M546.22 1346.72V1356.99M546.22 1374.79V1391.32M621.45 1364.48H633.65M621.45 1409.08H633.65M627.55 1364.48V1374.74M627.55 1392.54V1409.08M702.78 1368.08H714.98M702.78 1412.68H714.98M708.88 1368.08V1378.35M708.88 1396.15V1412.68M784.11 1367.75H796.31M784.11 1412.35H796.31M790.21 1367.75V1378.02M790.21 1395.82V1412.35M865.44 1367.75H877.64M865.44 1412.35H877.64M871.54 1367.75V1378.02M871.54 1395.82V1412.35" fill="none" stroke="#1A6FDF" stroke-width="1.4" stroke-linecap="round"/>
<path d="M214.8 901.19H227M214.8 945.79H227M220.9 901.19V917.72M220.9 935.52V945.79M241.91 947.9H254.11M241.91 992.5H254.11M248.01 947.9V964.44M248.01 982.24V992.5M269.02 1007.39H281.22M269.02 1051.99H281.22M275.12 1007.39V1023.93M275.12 1041.73V1051.99M296.13 1061.12H308.33M296.13 1105.72H308.33M302.23 1061.12V1077.65M302.23 1095.45V1105.72M336.79 1103.77H349M336.79 1148.37H349M342.89 1103.77V1120.31M342.89 1138.11V1148.37M377.46 1185.02H389.66M377.46 1229.62H389.66M383.56 1185.02V1201.55M383.56 1219.35V1229.62M458.79 1280.61H470.99M458.79 1325.21H470.99M464.89 1280.61V1297.15M464.89 1314.95V1325.21M540.12 1300.6H552.32M540.12 1345.2H552.32M546.22 1300.6V1317.13M546.22 1334.93V1345.2M621.45 1355.63H633.65M621.45 1400.23H633.65M627.55 1355.63V1372.17M627.55 1389.97V1400.23M702.78 1361.53H714.98M702.78 1406.13H714.98M708.88 1361.53V1378.06M708.88 1395.86V1406.13M784.11 1361.01H796.31M784.11 1405.61H796.31M790.21 1361.01V1377.54M790.21 1395.34V1405.61M865.44 1362.64H877.64M865.44 1407.24H877.64M871.54 1362.64V1379.18M871.54 1396.98V1407.24" fill="none" stroke="#37AD6B" stroke-width="2.9" stroke-linecap="round"/>
<path d="M214.8 892.41H227M214.8 937.01H227M220.9 892.41V903.81M220.9 925.61V937.01M241.91 934.67H254.11M241.91 979.27H254.11M248.01 934.67V946.07M248.01 967.87V979.27M269.02 991.8H281.22M269.02 1036.4H281.22M275.12 991.8V1003.2M275.12 1025V1036.4M296.13 1046.84H308.33M296.13 1091.44H308.33M302.23 1046.84V1058.24M302.23 1080.04V1091.44M336.79 1106.85H349M336.79 1151.45H349M342.89 1106.85V1118.25M342.89 1140.05V1151.45M377.46 1201.79H389.66M377.46 1246.39H389.66M383.56 1201.79V1213.19M383.56 1234.99V1246.39M458.79 1307.54H470.99M458.79 1352.14H470.99M464.89 1307.54V1318.94M464.89 1340.74V1352.14M540.12 1326.08H552.32M540.12 1370.68H552.32M546.22 1326.08V1337.48M546.22 1359.28V1370.68M621.45 1347.9H633.65M621.45 1392.5H633.65M627.55 1347.9V1359.3M627.55 1381.1V1392.5M702.78 1348.43H714.98M702.78 1393.03H714.98M708.88 1348.43V1359.83M708.88 1381.63V1393.03M784.11 1349.08H796.31M784.11 1393.68H796.31M790.21 1349.08V1360.48M790.21 1382.28V1393.68M865.44 1348.43H877.64M865.44 1393.03H877.64M871.54 1348.43V1359.83M871.54 1381.63V1393.03" fill="none" stroke="#B177DE" stroke-width="2.9" stroke-linecap="round"/>
<path d="M214.8 892.14H227M214.8 936.74H227M220.9 892.14V907.71M220.9 921.18V936.74M241.91 920.58H254.11M241.91 965.18H254.11M248.01 920.58V936.15M248.01 949.61V965.18M269.02 967.1H281.22M269.02 1011.7H281.22M275.12 967.1V982.67M275.12 996.13V1011.7M296.13 1016.63H308.33M296.13 1061.23H308.33M302.23 1016.63V1032.2M302.23 1045.67V1061.23M336.79 1062.23H349M336.79 1106.83H349M342.89 1062.23V1077.8M342.89 1091.27V1106.83M377.46 1129.46H389.66M377.46 1174.06H389.66M383.56 1129.46V1145.02M383.56 1158.49V1174.06M458.79 1228.26H470.99M458.79 1272.86H470.99M464.89 1228.26V1243.83M464.89 1257.3V1272.86M540.12 1300.46H552.32M540.12 1345.06H552.32M546.22 1300.46V1316.03M546.22 1329.5V1345.06M621.45 1325.1H633.65M621.45 1369.7H633.65M627.55 1325.1V1340.67M627.55 1354.13V1369.7M702.78 1333.68H714.98M702.78 1378.28H714.98M708.88 1333.68V1349.25M708.88 1362.72V1378.28M784.11 1340.3H796.31M784.11 1384.9H796.31M790.21 1340.3V1355.87M790.21 1369.33V1384.9M865.44 1343.38H877.64M865.44 1387.98H877.64M871.54 1343.38V1358.95M871.54 1372.41V1387.98" fill="none" stroke="#CC9900" stroke-width="2.9" stroke-linecap="round"/>
<path d="M214.8 894.11H227M214.8 938.71H227M220.9 894.11V909.68M220.9 923.14V938.71M241.91 929.75H254.11M241.91 974.35H254.11M248.01 929.75V945.32M248.01 958.79V974.35M269.02 959.04H281.22M269.02 1003.64H281.22M275.12 959.04V974.61M275.12 988.07V1003.64M296.13 992.13H308.33M296.13 1036.73H308.33M302.23 992.13V1007.69M302.23 1021.16V1036.73M336.79 1030.65H349M336.79 1075.25H349M342.89 1030.65V1046.22M342.89 1059.69V1075.25M377.46 1079.79H389.66M377.46 1124.39H389.66M383.56 1079.79V1095.36M383.56 1108.83V1124.39M458.79 1157.43H470.99M458.79 1202.03H470.99M464.89 1157.43V1173M464.89 1186.47V1202.03M540.12 1201.14H552.32M540.12 1245.74H552.32M546.22 1201.14V1216.7M546.22 1230.17V1245.74M621.45 1236.58H633.65M621.45 1281.18H633.65M627.55 1236.58V1252.15M627.55 1265.62V1281.18M702.78 1269.8H714.98M702.78 1314.4H714.98M708.88 1269.8V1285.37M708.88 1298.83V1314.4M784.11 1305.31H796.31M784.11 1349.91H796.31M790.21 1305.31V1320.88M790.21 1334.35V1349.91M865.44 1328.7H877.64M865.44 1373.3H877.64M871.54 1328.7V1344.27M871.54 1357.74V1373.3" fill="none" stroke="#00CBCC" stroke-width="2.9" stroke-linecap="round"/>
<path d="M214.8 898.83H227M214.8 943.43H227M220.9 898.83V911.63M220.9 930.63V943.43M241.91 917.5H254.11M241.91 962.1H254.11M248.01 917.5V930.3M248.01 949.3V962.1M269.02 953.93H281.22M269.02 998.53H281.22M275.12 953.93V966.73M275.12 985.73V998.53M296.13 985.31H308.33M296.13 1029.91H308.33M302.23 985.31V998.11M302.23 1017.11V1029.91M336.79 1034.98H349M336.79 1079.58H349M342.89 1034.98V1047.78M342.89 1066.78V1079.58M377.46 1090.93H389.66M377.46 1135.53H389.66M383.56 1090.93V1103.73M383.56 1122.73V1135.53M458.79 1148.33H470.99M458.79 1192.93H470.99M464.89 1148.33V1161.13M464.89 1180.13V1192.93M540.12 1158.88H552.32M540.12 1203.48H552.32M546.22 1158.88V1171.68M546.22 1190.68V1203.48M621.45 1166.61H633.65M621.45 1211.21H633.65M627.55 1166.61V1179.41M627.55 1198.41V1211.21M702.78 1192.68H714.98M702.78 1237.28H714.98M708.88 1192.68V1205.48M708.88 1224.48V1237.28M784.11 1215.29H796.31M784.11 1259.89H796.31M790.21 1215.29V1228.09M790.21 1247.09V1259.89M865.44 1236.65H877.64M865.44 1281.25H877.64M871.54 1236.65V1249.45M871.54 1268.45V1281.25" fill="none" stroke="#7D4E4E" stroke-width="2.9" stroke-linecap="round"/>
<path d="M214.8 891.29H227M214.8 935.89H227M220.9 891.29V903.09M220.9 917.29V935.89M241.91 900.27H254.11M241.91 944.87H254.11M248.01 900.27V912.07M248.01 926.27V944.87M269.02 963.82H281.22M269.02 1008.42H281.22M275.12 963.82V975.62M275.12 989.83V1008.42M296.13 1003.46H308.33M296.13 1048.06H308.33M302.23 1003.46V1015.26M302.23 1029.46V1048.06M336.79 1036.55H349M336.79 1081.15H349M342.89 1036.55V1048.35M342.89 1062.55V1081.15M377.46 1106.07H389.66M377.46 1150.67H389.66M383.56 1106.07V1117.87M383.56 1132.07V1150.67M458.79 1111.18H470.99M458.79 1155.78H470.99M464.89 1111.18V1122.98M464.89 1137.18V1155.78M540.12 1121.27H552.32M540.12 1165.87H552.32M546.22 1121.27V1133.07M546.22 1147.27V1165.87M621.45 1146.56H633.65M621.45 1191.16H633.65M627.55 1146.56V1158.36M627.55 1172.56V1191.16M702.78 1154.75H714.98M702.78 1199.35H714.98M708.88 1154.75V1166.55M708.88 1180.75V1199.35M784.11 1167.79H796.31M784.11 1212.39H796.31M790.21 1167.79V1179.59M790.21 1193.79V1212.39M865.44 1197.93H877.64M865.44 1242.53H877.64M871.54 1197.93V1209.73M871.54 1223.93V1242.53" fill="none" stroke="#8E8E00" stroke-width="2.9" stroke-linecap="round"/>
<g fill="#000"><rect x="151.3" y="826.45" width="3.78" height="658.85"/><rect x="964.5" y="826.45" width="3.8" height="658.85"/><rect x="151.3" y="826.45" width="817" height="3.5"/><rect x="151.15" y="1481.25" width="817.15" height="4.05"/></g>
<path d="M154.58 1417.9H165.9M154.58 1352.38H165.9M154.58 1286.86H165.9M154.58 1221.34H165.9M154.58 1155.82H165.9M154.58 1090.3H165.9M154.58 1024.78H165.9M154.58 959.26H165.9M154.58 893.74H165.9M154.58 1450.66H159.6M154.58 1385.14H159.6M154.58 1319.62H159.6M154.58 1254.1H159.6M154.58 1188.58H159.6M154.58 1123.06H159.6M154.58 1057.54H159.6M154.58 992.02H159.6M154.58 926.5H159.6M154.58 860.98H159.6M221 1481.75V1470.85M356.6 1481.75V1470.85M492.2 1481.75V1470.85M627.8 1481.75V1470.85M763.4 1481.75V1470.85M899 1481.75V1470.85M288.8 1481.75V1477.1M424.4 1481.75V1477.1M560 1481.75V1477.1M695.6 1481.75V1477.1M831.2 1481.75V1477.1" fill="none" stroke="#000" stroke-width="3.7"/>
</g>
<g id="labels" font-family="'Liberation Serif', serif" font-weight="bold" fill="#000" text-rendering="geometricPrecision">
<text transform="translate(139.35 671.42) rotate(0.04) scale(1 1.04)" font-size="34" text-anchor="end">-10</text>
<text transform="translate(139.35 570.62) rotate(0.04) scale(1 1.04)" font-size="34" text-anchor="end">0</text>
<text transform="translate(139.35 469.82) rotate(0.04) scale(1 1.04)" font-size="34" text-anchor="end">10</text>
<text transform="translate(139.35 369.02) rotate(0.04) scale(1 1.04)" font-size="34" text-anchor="end">20</text>
<text transform="translate(139.35 268.22) rotate(0.04) scale(1 1.04)" font-size="34" text-anchor="end">30</text>
<text transform="translate(139.35 167.42) rotate(0.04) scale(1 1.04)" font-size="34" text-anchor="end">40</text>
<text transform="translate(139.35 66.62) rotate(0.04) scale(1 1.04)" font-size="34" text-anchor="end">50</text>
<text transform="translate(139.35 1494.67) rotate(0.04) scale(1 1.04)" font-size="34" text-anchor="end">-10</text>
<text transform="translate(139.35 1429.15) rotate(0.04) scale(1 1.04)" font-size="34" text-anchor="end">0</text>
<text transform="translate(139.35 1363.63) rotate(0.04) scale(1 1.04)" font-size="34" text-anchor="end">10</text>
<text transform="translate(139.35 1298.11) rotate(0.04) scale(1 1.04)" font-size="34" text-anchor="end">20</text>
<text transform="translate(139.35 1232.59) rotate(0.04) scale(1 1.04)" font-size="34" text-anchor="end">30</text>
<text transform="translate(139.35 1167.07) rotate(0.04) scale(1 1.04)" font-size="34" text-anchor="end">40</text>
<text transform="translate(139.35 1101.55) rotate(0.04) scale(1 1.04)" font-size="34" text-anchor="end">50</text>
<text transform="translate(139.35 1036.03) rotate(0.04) scale(1 1.04)" font-size="34" text-anchor="end">60</text>
<text transform="translate(139.35 970.51) rotate(0.04) scale(1 1.04)" font-size="34" text-anchor="end">70</text>
<text transform="translate(139.35 904.99) rotate(0.04) scale(1 1.04)" font-size="34" text-anchor="end">80</text>
<text transform="translate(139.35 839.47) rotate(0.04) scale(1 1.04)" font-size="34" text-anchor="end">90</text>
<text transform="translate(221.1 701.65) rotate(0.04) scale(1 1.04)" font-size="34" text-anchor="middle">0</text>
<text transform="translate(221.1 1524.65) rotate(0.04) scale(1 1.04)" font-size="34" text-anchor="middle">0</text>
<text transform="translate(356.7 701.65) rotate(0.04) scale(1 1.04)" font-size="34" text-anchor="middle">5</text>
<text transform="translate(356.7 1524.65) rotate(0.04) scale(1 1.04)" font-size="34" text-anchor="middle">5</text>
<text transform="translate(492.3 701.65) rotate(0.04) scale(1 1.04)" font-size="34" text-anchor="middle">10</text>
<text transform="translate(492.3 1524.65) rotate(0.04) scale(1 1.04)" font-size="34" text-anchor="middle">10</text>
<text transform="translate(627.9 701.65) rotate(0.04) scale(1 1.04)" font-size="34" text-anchor="middle">15</text>
<text transform="translate(627.9 1524.65) rotate(0.04) scale(1 1.04)" font-size="34" text-anchor="middle">15</text>
<text transform="translate(763.5 701.65) rotate(0.04) scale(1 1.04)" font-size="34" text-anchor="middle">20</text>
<text transform="translate(763.5 1524.65) rotate(0.04) scale(1 1.04)" font-size="34" text-anchor="middle">20</text>
<text transform="translate(899.1 701.65) rotate(0.04) scale(1 1.04)" font-size="34" text-anchor="middle">25</text>
<text transform="translate(899.1 1524.65) rotate(0.04) scale(1 1.04)" font-size="34" text-anchor="middle">25</text>
<text transform="translate(544.5 757.1) rotate(0.04) scale(1 1.03)" font-size="34.3" text-anchor="middle">Time (h)</text>
<text transform="translate(557.25 1581) rotate(0.04) scale(1 1.03)" font-size="34.3" text-anchor="middle">Time (h)</text>
<text transform="translate(-0.52 40.95) rotate(0.04) scale(1 0.97)" font-size="43.8" text-anchor="start">(a)</text>
<text transform="translate(-0.52 864) rotate(0.04) scale(1 0.97)" font-size="43.8" text-anchor="start">(b)</text>
<text transform="translate(69.15 548.75) rotate(-89.96) scale(1 1.04)" font-size="34.2">NH<tspan font-size="23" dy="9" dx="-0.5">4</tspan><tspan font-size="26" font-weight="normal" dy="-22" dx="-0.5">+</tspan><tspan dy="13" dx="-0.5">-N concentration (mg/L)</tspan></text>
<text transform="translate(83.1 1386.65) rotate(-89.96) scale(1 1.04)" font-size="34.2">NO<tspan font-size="34.2" dy="8.6" dx="0">2</tspan><tspan font-size="34.2" font-weight="bold" dy="-22.1" dx="0">-</tspan><tspan dy="13.5" dx="0">-N concentration (mg/L)</tspan></text>
<path d="M385.1 35.3H440.4" stroke="#515151" stroke-width="2.9" fill="none" stroke-linecap="round"/>
<rect x="404.7" y="27.2" width="16.2" height="16.2" fill="#515151"/>
<text transform="translate(446.25 42.97) rotate(0.04) scale(1 1.04)" font-size="34.07" text-anchor="start">Ni(0 mg/L)</text>
<path d="M385.1 74.05H440.4" stroke="#F14040" stroke-width="2.9" fill="none" stroke-linecap="round"/>
<circle cx="412.8" cy="74.05" r="8.8" fill="#F14040"/>
<text transform="translate(449.33 81.97) rotate(0.04) scale(1 1.04)" font-size="34.07" text-anchor="start">Ni(1 mg/L)</text>
<path d="M385.1 112.8H440.4" stroke="#1A6FDF" stroke-width="2.9" fill="none" stroke-linecap="round"/>
<polygon points="412.8,100.27 401.95,119.07 423.65,119.07" fill="#1A6FDF"/>
<text transform="translate(449.33 121) rotate(0.04) scale(1 1.04)" font-size="34.07" text-anchor="start">Ni(2.5 mg/L)</text>
<path d="M385.1 151.5H440.4" stroke="#37AD6B" stroke-width="2.9" fill="none" stroke-linecap="round"/>
<polygon points="412.8,164.03 401.95,145.23 423.65,145.23" fill="#37AD6B"/>
<text transform="translate(449.33 160) rotate(0.04) scale(1 1.04)" font-size="34.07" text-anchor="start">Ni(5 mg/L)</text>
<path d="M385.1 190.3H440.4" stroke="#B177DE" stroke-width="2.9" fill="none" stroke-linecap="round"/>
<polygon points="412.8,178.9 424.2,190.3 412.8,201.7 401.4,190.3" fill="#B177DE"/>
<text transform="translate(449.33 197.97) rotate(0.04) scale(1 1.04)" font-size="34.07" text-anchor="start">Ni(10 mg/L)</text>
<path d="M661 30.5H736.6" stroke="#CC9900" stroke-width="2.9" fill="none" stroke-linecap="round"/>
<polygon points="686.37,30.5 705.17,19.65 705.17,41.35" fill="#CC9900"/>
<text transform="translate(745.25 41.95) rotate(0.04) scale(1 1.04)" font-size="34.07" text-anchor="start">Ni(25 mg/L)</text>
<path d="M661 73.2H736.6" stroke="#00CBCC" stroke-width="2.9" fill="none" stroke-linecap="round"/>
<polygon points="711.43,73.2 692.63,62.35 692.63,84.05" fill="#00CBCC"/>
<text transform="translate(745.25 84.95) rotate(0.04) scale(1 1.04)" font-size="34.07" text-anchor="start">Ni(50 mg/L)</text>
<path d="M661 115.8H736.6" stroke="#7D4E4E" stroke-width="2.9" fill="none" stroke-linecap="round"/>
<polygon points="698.9,105.8 690.24,110.8 690.24,120.8 698.9,125.8 707.56,120.8 707.56,110.8" fill="#7D4E4E"/>
<text transform="translate(745.25 126.96) rotate(0.04) scale(1 1.04)" font-size="34.07" text-anchor="start">Ni(75 mg/L)</text>
<path d="M661 158.5H736.6" stroke="#8E8E00" stroke-width="2.9" fill="none" stroke-linecap="round"/>
<polygon points="698.9,147.5 696.43,155.1 688.44,155.1 694.9,159.8 692.43,167.4 698.9,162.7 705.37,167.4 702.9,159.8 709.36,155.1 701.37,155.1" fill="#8E8E00"/>
<text transform="translate(745.25 169.95) rotate(0.04) scale(1 1.04)" font-size="34.07" text-anchor="start">Ni(100 mg/L)</text>
<path d="M385.1 858.4H440.4" stroke="#515151" stroke-width="2.9" fill="none" stroke-linecap="round"/>
<rect x="404.7" y="850.3" width="16.2" height="16.2" fill="#515151"/>
<text transform="translate(446.45 866.97) rotate(0.04) scale(1 1.04)" font-size="34.07" text-anchor="start">Ni(0 mg/L)</text>
<path d="M385.1 897.2H440.4" stroke="#F14040" stroke-width="2.9" fill="none" stroke-linecap="round"/>
<circle cx="412.8" cy="897.2" r="8.8" fill="#F14040"/>
<text transform="translate(449.33 905.04) rotate(0.04) scale(1 1.04)" font-size="34.07" text-anchor="start">Ni(1 mg/L)</text>
<path d="M385.1 936H440.4" stroke="#1A6FDF" stroke-width="2.9" fill="none" stroke-linecap="round"/>
<polygon points="412.8,923.47 401.95,942.27 423.65,942.27" fill="#1A6FDF"/>
<text transform="translate(449.33 944.03) rotate(0.04) scale(1 1.04)" font-size="34.07" text-anchor="start">Ni(2.5 mg/L)</text>
<path d="M385.1 974.75H440.4" stroke="#37AD6B" stroke-width="2.9" fill="none" stroke-linecap="round"/>
<polygon points="412.8,987.28 401.95,968.48 423.65,968.48" fill="#37AD6B"/>
<text transform="translate(449.33 983.02) rotate(0.04) scale(1 1.04)" font-size="34.07" text-anchor="start">Ni(5 mg/L)</text>
<path d="M385.1 1013.54H440.4" stroke="#B177DE" stroke-width="2.9" fill="none" stroke-linecap="round"/>
<polygon points="412.8,1002.14 424.2,1013.54 412.8,1024.94 401.4,1013.54" fill="#B177DE"/>
<text transform="translate(449.33 1022) rotate(0.04) scale(1 1.04)" font-size="34.07" text-anchor="start">Ni(10 mg/L)</text>
<path d="M661 853.7H736.6" stroke="#CC9900" stroke-width="2.9" fill="none" stroke-linecap="round"/>
<polygon points="686.37,853.7 705.17,842.85 705.17,864.55" fill="#CC9900"/>
<text transform="translate(745.25 864.95) rotate(0.04) scale(1 1.04)" font-size="34.07" text-anchor="start">Ni(25 mg/L)</text>
<path d="M661 896.4H736.6" stroke="#00CBCC" stroke-width="2.9" fill="none" stroke-linecap="round"/>
<polygon points="711.43,896.4 692.63,885.55 692.63,907.25" fill="#00CBCC"/>
<text transform="translate(745.25 907.95) rotate(0.04) scale(1 1.04)" font-size="34.07" text-anchor="start">Ni(50 mg/L)</text>
<path d="M661 939.1H736.6" stroke="#7D4E4E" stroke-width="2.9" fill="none" stroke-linecap="round"/>
<polygon points="698.9,929.1 690.24,934.1 690.24,944.1 698.9,949.1 707.56,944.1 707.56,934.1" fill="#7D4E4E"/>
<text transform="translate(745.25 950.95) rotate(0.04) scale(1 1.04)" font-size="34.07" text-anchor="start">Ni(75 mg/L)</text>
<path d="M661 981.8H736.6" stroke="#8E8E00" stroke-width="2.9" fill="none" stroke-linecap="round"/>
<polygon points="698.9,970.8 696.43,978.4 688.44,978.4 694.9,983.1 692.43,990.7 698.9,986 705.37,990.7 702.9,983.1 709.36,978.4 701.37,978.4" fill="#8E8E00"/>
<text transform="translate(745.25 992.96) rotate(0.04) scale(1 1.04)" font-size="34.07" text-anchor="start">Ni(100 mg/L)</text>
</g>
</svg>
</body>
</html>
